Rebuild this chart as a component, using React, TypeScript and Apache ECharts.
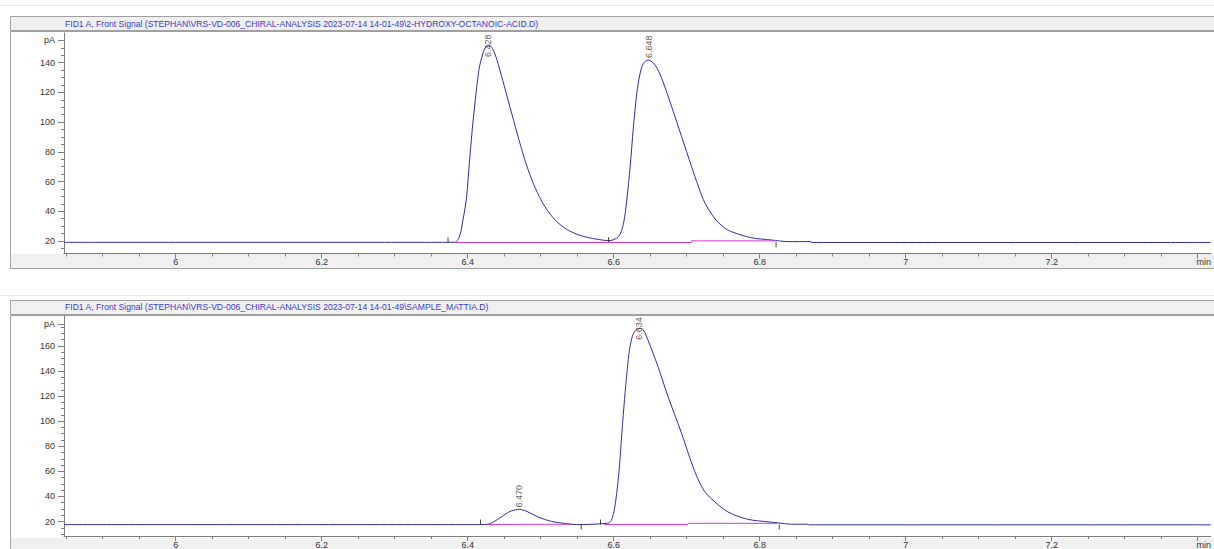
import React, { useEffect, useRef } from "react";
import * as echarts from "echarts";

// ---------- data ----------
const titleTop =
  "FID1 A, Front Signal (STEPHAN\\VRS-VD-006_CHIRAL-ANALYSIS 2023-07-14 14-01-49\\2-HYDROXY-OCTANOIC-ACID.D)";
const titleBottom =
  "FID1 A, Front Signal (STEPHAN\\VRS-VD-006_CHIRAL-ANALYSIS 2023-07-14 14-01-49\\SAMPLE_MATTIA.D)";

const xMajor = [6, 6.2, 6.4, 6.6, 6.8, 7, 7.2, 7.4];
const yMajorTop = [20, 40, 60, 80, 100, 120, 140];
const yMajorBottom = [20, 40, 60, 80, 100, 120, 140, 160];
const unitTickTop = 155;
const unitTickBottom = 177.5;

// top chromatogram (2-hydroxy-octanoic acid standard)
const topTime = [
  5.847, 6.373, 6.3835, 6.3893, 6.3934, 6.398, 6.4026, 6.4075, 6.4153, 6.4208,
  6.4249, 6.429, 6.434, 6.44, 6.448, 6.458, 6.468, 6.478, 6.488, 6.498,
  6.508, 6.52, 6.535, 6.55, 6.565, 6.58, 6.5929, 6.6066, 6.6134, 6.6179,
  6.6225, 6.627, 6.6316, 6.6362, 6.6407, 6.6475, 6.6567, 6.6657, 6.6794, 6.693,
  6.7067, 6.7158, 6.725, 6.7387, 6.75, 6.7613, 6.7887, 6.816, 6.8388, 6.8705,
  6.871, 7.418,
];
const topSignal = [
  19.1, 19.1, 19.3, 24, 34.1, 47.6, 74.5, 101.4, 135, 146.3,
  150.8, 151.9, 149.5, 142, 128, 110, 92, 75, 61, 50,
  41.5, 34, 28, 24.5, 22.3, 21, 20.2, 22.9, 31.9, 47.6,
  70, 96.9, 119.4, 132.9, 139.6, 141.8, 138.4, 129.5, 110.4, 90.2,
  70, 57, 45.5, 35, 29.5, 26.3, 22.2, 20.7, 19.6, 19.6,
  19.0, 19.0,
];
const topBaselineSegments = [
  [[6.3835, 19.0], [6.5929, 19.0]],
  [[6.5929, 19.0], [6.706, 19.0], [6.7065, 20.1], [6.8224, 20.1]],
];
const topEventsUp = [6.373, 6.5929];
const topEventsDown = [6.8224];
const topEventLevel = 19.1;
const topPeakTimes = ["6.428", "6.648"];
const topPeakApex = [151.9, 141.8];

// bottom chromatogram (sample)
const bottomTime = [
  5.847, 6.4175, 6.4277, 6.4363, 6.4459, 6.4527, 6.4596, 6.471, 6.4825, 6.4962,
  6.5144, 6.5373, 6.5486, 6.5921, 6.5966, 6.6011, 6.6048, 6.6079, 6.6112, 6.6148,
  6.6185, 6.6216, 6.6253, 6.6285, 6.6353, 6.6404, 6.6468, 6.6605, 6.6742, 6.6925,
  6.7062, 6.7153, 6.724, 6.7336, 6.7564, 6.7838, 6.8112, 6.8249, 6.8432, 6.866,
  6.867, 7.418,
];
const bottomSignal = [
  17.6, 17.6, 17.9, 20, 23.7, 26.3, 28.5, 29.7, 27.7, 23.7,
  20.2, 18.2, 17.6, 18.7, 20.8, 30.3, 46.1, 64.5, 91.2, 117.3,
  141, 156.9, 167.2, 171.3, 174, 172.7, 164.8, 143.7, 119.9, 91,
  67.5, 54, 44.5, 38.2, 27.7, 21.8, 19.8, 19, 17.9, 17.9,
  17.4, 17.4,
];
const bottomBaselineSegments = [
  [[6.4277, 17.7], [6.542, 17.9]],
  [[6.587, 17.6], [6.7016, 17.6], [6.702, 18.6], [6.8249, 18.6]],
];
const bottomEventsUp = [6.4175, 6.5819];
const bottomEventsDown = [6.5555, 6.8267];
const bottomEventLevel = 17.6;
const bottomPeakTimes = ["6.470", "6.634"];
const bottomPeakApex = [29.7, 174];

// ---------- style / layout ----------
const FONT = '"Liberation Sans", Arial, sans-serif';
const TRACE = "#2e2e9c";
const BASE = "#d436d4";
const AXIS = "#7c7c7c";
const LABEL = "#333333";
const TITLE = "#3b3bc4";

const xMin = 5.847;
const xMax = 7.418;
const GRID_LEFT = 64;
const GRID_WIDTH = 1150;
const grids = [
  { top: 33, height: 220.5, yMin: 11.6, yMax: 160 },
  { top: 316, height: 221.5, yMin: 8.5, yMax: 183.8 },
];

function range(a: number, b: number, step: number) {
  const out: number[] = [];
  for (let v = a; v <= b + 1e-9; v += step) out.push(Math.round(v * 1000) / 1000);
  return out;
}

const xMinor = range(5.85, 7.4, 0.05).filter(
  (v) => !xMajor.some((m) => Math.abs(m - v) < 1e-6)
);

function labelAnchor(apex: number, g: { top: number; height: number; yMin: number; yMax: number }) {
  const ppu = g.height / (g.yMax - g.yMin);
  const textLen = 22;
  const apexPy = g.top + (g.yMax - apex) * ppu;
  const bottomPy = Math.max(apexPy - 2, g.top + 2 + textLen);
  return g.yMax - (bottomPy - g.top) / ppu;
}

function xAxes(gi: number) {
  return [
    {
      type: "value",
      gridIndex: gi,
      position: "bottom",
      min: xMin,
      max: xMax,
      axisLine: { show: true, onZero: false, lineStyle: { color: AXIS, width: 1 } },
      axisTick: { show: true, length: 5, customValues: xMajor, lineStyle: { color: AXIS } },
      axisLabel: {
        show: true,
        customValues: xMajor,
        margin: 4,
        fontSize: 9,
        color: LABEL,
        fontFamily: FONT,
        formatter: (v: number) =>
          Math.abs(v - 7.4) < 1e-6 ? "{m|min}" : String(+v.toFixed(1)),
        rich: { m: { padding: [0, 0, 0, 12], fontSize: 9, color: LABEL, fontFamily: FONT } },
      },
      splitLine: { show: false },
    },
    {
      type: "value",
      gridIndex: gi,
      position: "bottom",
      offset: 0,
      min: xMin,
      max: xMax,
      axisLine: { show: false },
      axisTick: { show: true, length: 3, customValues: xMinor, lineStyle: { color: AXIS } },
      axisLabel: { show: false },
      splitLine: { show: false },
    },
  ];
}

function yAxes(gi: number, majors: number[], unitTick: number) {
  const g = grids[gi];
  const minors = range(Math.ceil(g.yMin / 5) * 5, unitTick, 5).filter(
    (v) => !majors.includes(v) && v !== unitTick
  );
  return [
    {
      type: "value",
      gridIndex: gi,
      position: "left",
      min: g.yMin,
      max: g.yMax,
      axisLine: { show: true, onZero: false, lineStyle: { color: AXIS, width: 1 } },
      axisTick: { show: true, length: 6, customValues: [...majors, unitTick], lineStyle: { color: AXIS } },
      axisLabel: {
        show: true,
        customValues: [...majors, unitTick],
        margin: 9,
        fontSize: 9,
        color: LABEL,
        fontFamily: FONT,
        formatter: (v: number) => (Math.abs(v - unitTick) < 1e-6 ? "pA" : String(v)),
      },
      splitLine: { show: false },
    },
    {
      type: "value",
      gridIndex: gi,
      position: "left",
      offset: 0,
      min: g.yMin,
      max: g.yMax,
      axisLine: { show: false },
      axisTick: { show: true, length: 3, customValues: minors, lineStyle: { color: AXIS } },
      axisLabel: { show: false },
      splitLine: { show: false },
    },
  ];
}

function panelSeries(
  gi: number,
  time: number[],
  signal: number[],
  baseSegs: number[][][],
  evUp: number[],
  evDown: number[],
  evLevel: number,
  peakNames: string[],
  peakApex: number[]
) {
  const xi = gi * 2;
  const yi = gi * 2;
  const common = { xAxisIndex: xi, yAxisIndex: yi, silent: true, animation: false };
  const list: any[] = [];
  list.push({
    ...common,
    type: "line",
    data: time.map((t, i) => [t, signal[i]]),
    showSymbol: false,
    smooth: 0.3,
    lineStyle: { color: TRACE, width: 1 },
    z: 3,
  });
  baseSegs.forEach((seg) =>
    list.push({
      ...common,
      type: "line",
      data: seg,
      showSymbol: false,
      lineStyle: { color: BASE, width: 1 },
      z: 4,
    })
  );
  list.push({
    ...common,
    type: "scatter",
    data: evUp.map((t) => [t, evLevel]),
    symbol: "rect",
    symbolSize: [1, 5],
    symbolOffset: [0, -2.5],
    itemStyle: { color: "#111" },
    z: 5,
  });
  list.push({
    ...common,
    type: "scatter",
    data: evDown.map((t) => [t, evLevel]),
    symbol: "rect",
    symbolSize: [1, 5],
    symbolOffset: [0, 2.5],
    itemStyle: { color: "#111" },
    z: 5,
  });
  list.push({
    ...common,
    type: "scatter",
    data: peakNames.map((n, i) => ({
      name: n,
      value: [parseFloat(n), labelAnchor(peakApex[i], grids[gi])],
    })),
    symbolSize: 1,
    itemStyle: { color: "rgba(0,0,0,0)" },
    label: {
      show: true,
      formatter: "{b}",
      position: "inside",
      rotate: 90,
      align: "left",
      verticalAlign: "middle",
      fontSize: 9,
      color: LABEL,
      fontFamily: FONT,
    },
    z: 6,
  });
  return list;
}

export default function App() {
  const ref = useRef<HTMLDivElement>(null);
  useEffect(() => {
    if (!ref.current) return;
    const chart = echarts.init(ref.current, undefined, { renderer: "svg" });
    const bg = (shape: any, style: any) => ({ type: "rect", shape, style, z: -10, silent: true });
    const option: any = {
      animation: false,
      backgroundColor: "#ffffff",
      grid: grids.map((g) => ({
        left: GRID_LEFT,
        top: g.top,
        width: GRID_WIDTH,
        height: g.height,
        containLabel: false,
      })),
      xAxis: [...xAxes(0), ...xAxes(1)],
      yAxis: [...yAxes(0, yMajorTop, unitTickTop), ...yAxes(1, yMajorBottom, unitTickBottom)],
      graphic: [
        { type: "line", shape: { x1: 0, y1: 5.5, x2: 1214, y2: 5.5 }, style: { stroke: "#e6e6e6", lineWidth: 1 }, z: -10, silent: true },
        bg({ x: 10.5, y: 16.5, width: 1215, height: 14 }, { fill: "#f0f0f0", stroke: "#a0a0a0", lineWidth: 1 }),
        bg({ x: 10.5, y: 31.5, width: 1215, height: 237 }, { fill: "#ffffff", stroke: "#a0a0a0", lineWidth: 1 }),
        bg({ x: 11, y: 254, width: 1203, height: 14 }, { fill: "#f0f0f0" }),
        { type: "line", shape: { x1: 0, y1: 295.5, x2: 1214, y2: 295.5 }, style: { stroke: "#e6e6e6", lineWidth: 1 }, z: -10, silent: true },
        bg({ x: 10.5, y: 300.5, width: 1215, height: 14 }, { fill: "#f0f0f0", stroke: "#a0a0a0", lineWidth: 1 }),
        bg({ x: 10.5, y: 315.5, width: 1215, height: 250 }, { fill: "#ffffff", stroke: "#a0a0a0", lineWidth: 1 }),
        bg({ x: 11, y: 538, width: 1203, height: 20 }, { fill: "#f0f0f0" }),
        {
          type: "text",
          x: 65,
          y: 23.5,
          silent: true,
          style: { text: titleTop, fill: TITLE, fontSize: 8.6, fontFamily: FONT, verticalAlign: "middle", align: "left" },
        },
        {
          type: "text",
          x: 65,
          y: 307,
          silent: true,
          style: { text: titleBottom, fill: TITLE, fontSize: 8.6, fontFamily: FONT, verticalAlign: "middle", align: "left" },
        },
      ],
      series: [
        ...panelSeries(0, topTime, topSignal, topBaselineSegments, topEventsUp, topEventsDown, topEventLevel, topPeakTimes, topPeakApex),
        ...panelSeries(1, bottomTime, bottomSignal, bottomBaselineSegments, bottomEventsUp, bottomEventsDown, bottomEventLevel, bottomPeakTimes, bottomPeakApex),
      ],
    };
    chart.setOption(option);
    return () => chart.dispose();
  }, []);
  return (
    <div
      ref={ref}
      style={{ position: "fixed", left: 0, top: 0, width: 1214, height: 549, background: "#fff" }}
    />
  );
}
